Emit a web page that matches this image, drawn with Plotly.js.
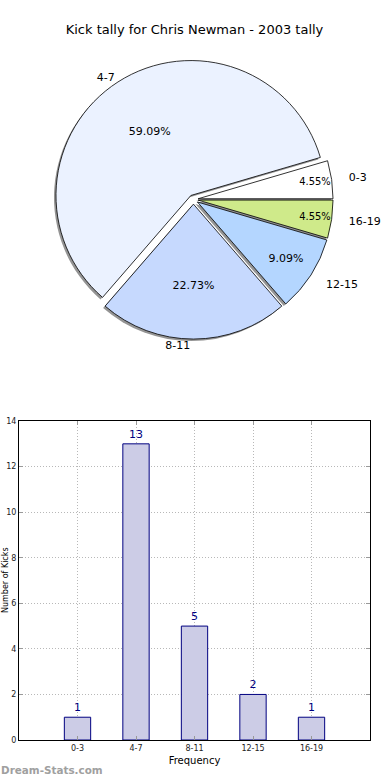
<!DOCTYPE html>
<html>
<head>
<meta charset="utf-8">
<script src="https://cdn.plot.ly/plotly-3.0.1.min.js"></script>
<style>html,body{margin:0;padding:0;background:#fff;}#chart{width:390px;height:780px;}</style>
</head>
<body>
<div id="chart"></div>
<script>
// Data
const categories = ["0-3", "4-7", "8-11", "12-15", "16-19"];
const kicks = [1, 13, 5, 2, 1];
const sliceColors = ["#ffffff", "#ebf2ff", "#c6d9fe", "#b4d6ff", "#cfea8a"];
const titleText = "Kick tally for Chris Newman - 2003 tally";
const yTitle = "Number of Kicks";
const xTitle = "Frequency";
const watermark = "Dream-Stats.com";

const FONT = "DejaVu Sans, sans-serif";
const total = kicks.reduce((a, b) => a + b, 0);
// first slice begins at 3 o'clock and runs counter-clockwise (matplotlib style)
const startRot = 90 - 360 * kicks[0] / total;
const PULL = 0.035;
const cx = 0.497, cy = 0.7305, hx = 0.3979, hy = 0.1887;
function dom(scale, dx, dy) {
  return {x: [cx - hx * scale + dx, cx + hx * scale + dx], y: [cy - hy * scale + dy, cy + hy * scale + dy]};
}
function pick(tpl, which) { return categories.map((c, i) => which.includes(i) ? tpl : ""); }
const clear = categories.map(() => "rgba(0,0,0,0)");
const common = {type: "pie", labels: categories, values: kicks, sort: false,
  direction: "counterclockwise", rotation: startRot, showlegend: false,
  automargin: false, hoverinfo: "skip"};
const txtFont = {family: FONT, size: 11, color: "#000"};

const shadow = Object.assign({}, common, {
  pull: PULL, domain: dom(1, -2 / 351, -2 / 740),
  marker: {colors: categories.map(() => "rgba(0,0,0,0.42)"), line: {width: 0}},
  textinfo: "none"
});
const pie = Object.assign({}, common, {
  pull: PULL, domain: dom(1, 0, 0),
  marker: {colors: sliceColors, line: {color: "#000", width: 0.8}},
  textinfo: "none"
});
function textPie(scale, pull, tpl, which, pos) {
  return Object.assign({}, common, {
    pull: pull, domain: dom(scale, 0, 0),
    marker: {colors: clear, line: {width: 0}},
    texttemplate: pick(tpl, which), textposition: pos,
    insidetextorientation: "horizontal", textfont: txtFont
  });
}
const pctBig = textPie(1.12, PULL, "%{percent:.2%}", [1], "inside");
const pctRest = textPie(1.0, PULL, "%{percent:.2%}", [0, 2, 3, 4], "inside");
const labSide = textPie(1.1, 0, "%{label}", [0, 3, 4], "outside");
const labTopBot = textPie(1.0, 0, "%{label}", [1, 2], "outside");

const bars = {
  type: "bar", x: categories, y: kicks, xaxis: "x", yaxis: "y",
  width: 0.45,
  marker: {color: "#ccccE6", line: {color: "#000080", width: 1}},
  texttemplate: "%{y}", textposition: "outside",
  textfont: {family: FONT, size: 11, color: "#000080"},
  cliponaxis: false, showlegend: false
};

const layout = {
  width: 390, height: 780,
  margin: {l: 19, r: 20, t: 0, b: 40},
  paper_bgcolor: "#fff", plot_bgcolor: "#fff",
  font: {family: FONT, color: "#000"},
  title: {text: titleText, font: {family: FONT, size: 13, color: "#000"}, x: 0.5, xref: "paper", y: 0.962, yref: "container", yanchor: "middle"},
  xaxis: {
    domain: [0, 1], type: "category", range: [-1, 5],
    showgrid: true, gridcolor: "#b8b8b8", griddash: "1px,2px", gridwidth: 1,
    showline: true, linecolor: "#000", linewidth: 1, mirror: "allticks",
    ticks: "inside", ticklen: 4, tickcolor: "#999",
    tickfont: {family: FONT, size: 8, color: "#222"},
    title: {text: xTitle, font: {family: FONT, size: 10, color: "#000"}, standoff: 5},
    zeroline: false, fixedrange: true
  },
  yaxis: {
    domain: [0, 0.431], range: [0, 14], dtick: 2,
    showgrid: true, gridcolor: "#b8b8b8", griddash: "1px,2px", gridwidth: 1,
    showline: true, linecolor: "#000", linewidth: 1, mirror: "allticks",
    ticks: "inside", ticklen: 4, tickcolor: "#999",
    tickfont: {family: FONT, size: 8, color: "#222"},
    zeroline: false, fixedrange: true
  },
  annotations: [{
    text: yTitle, xref: "paper", yref: "paper", x: -13.5 / 351, y: 0.2155,
    xanchor: "center", yanchor: "middle", textangle: -90, showarrow: false,
    font: {family: FONT, size: 8, color: "#000"}
  }, {
    text: "<b>" + watermark + "</b>", xref: "paper", yref: "paper", x: -0.057, y: -0.0405,
    xanchor: "left", yanchor: "middle", showarrow: false,
    font: {family: FONT, size: 10.4, color: "#a0a0a0"}
  }]
};

Plotly.newPlot("chart", [shadow, pie, pctBig, pctRest, labSide, labTopBot, bars], layout, {displayModeBar: false, staticPlot: true});
</script>
</body>
</html>
